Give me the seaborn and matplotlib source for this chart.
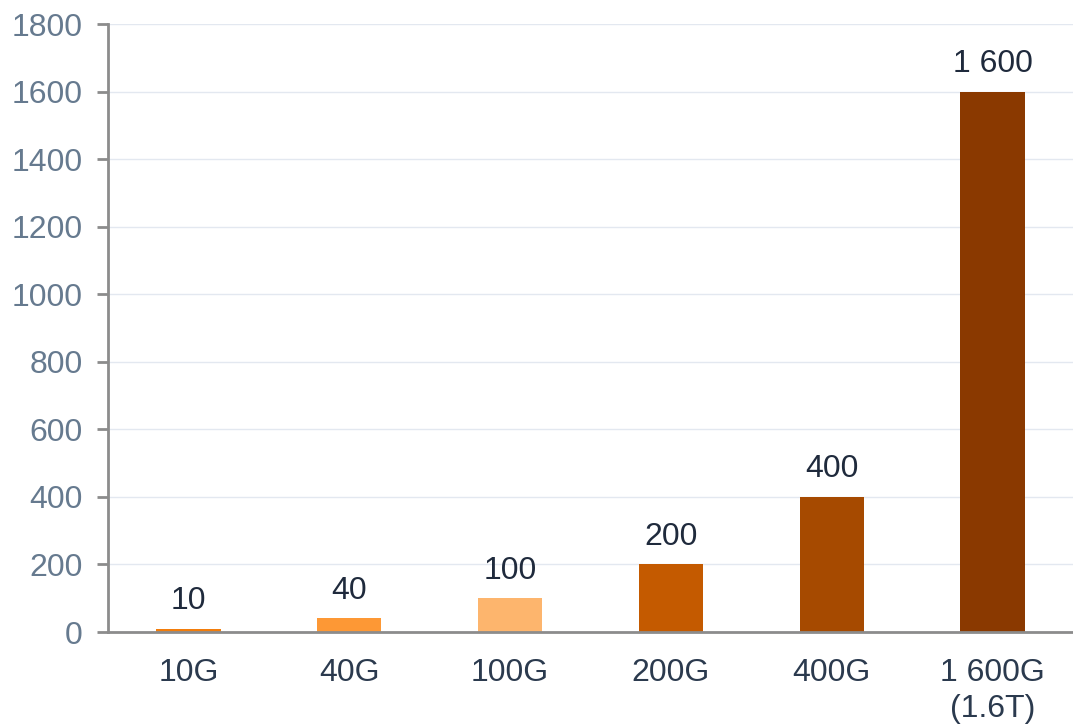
import seaborn as sns
import matplotlib.pyplot as plt
import pandas as pd

categories = ["10G", "40G", "100G", "200G", "400G", "1 600G\n(1.6T)"]
speeds = [10, 40, 100, 200, 400, 1600]
value_labels = ["10", "40", "100", "200", "400", "1 600"]
bar_colors = ["#F27D0C", "#FD9835", "#FDB56D", "#C45A00", "#A64A00", "#8A3900"]
y_ticks = [0, 200, 400, 600, 800, 1000, 1200, 1400, 1600, 1800]

df = pd.DataFrame({"category": categories, "speed": speeds})

sns.set_style("white")
plt.rcParams["font.family"] = ["Liberation Sans", "DejaVu Sans"]

fig = plt.figure(figsize=(10.73, 7.27), dpi=100)
ax = fig.add_axes([108 / 1073, 1 - 632 / 727, 1 - 108 / 1073, (632 - 24) / 727])

sns.barplot(
    data=df,
    x="category",
    y="speed",
    hue="category",
    palette=bar_colors,
    legend=False,
    width=0.4,
    saturation=1,
    linewidth=0,
    ax=ax,
)

for container, text in zip(ax.containers, value_labels):
    ax.bar_label(container, labels=[text], padding=9, fontsize=23, color="#1F2A3C")

ax.set_ylim(0, 1800)
ax.set_xlim(-0.5, len(categories) - 0.5)
ax.set_yticks(y_ticks)
ax.yaxis.grid(True, color="#E3E8F0", linewidth=1)
ax.set_axisbelow(True)

# boundary ticks between categories on the x axis
ax.set_xticks([i - 0.5 for i in range(len(categories))], minor=True)
ax.tick_params(axis="x", which="minor", length=9, width=2, color="#8C8C8C", direction="out")
ax.tick_params(axis="x", which="major", length=0, pad=19, labelsize=23, labelcolor="#2B3A4E")
ax.tick_params(axis="y", length=8, width=2, color="#8C8C8C", direction="out", pad=10,
               labelsize=23, labelcolor="#667A8F", left=True)
for label in ax.get_xticklabels():
    label.set_linespacing(1.25)

ax.set_xlabel("")
ax.set_ylabel("")
for side in ["top", "right"]:
    ax.spines[side].set_visible(False)
for side in ["left", "bottom"]:
    ax.spines[side].set_color("#8C8C8C")
    ax.spines[side].set_linewidth(2)

fig.savefig("out.png", dpi=100)
